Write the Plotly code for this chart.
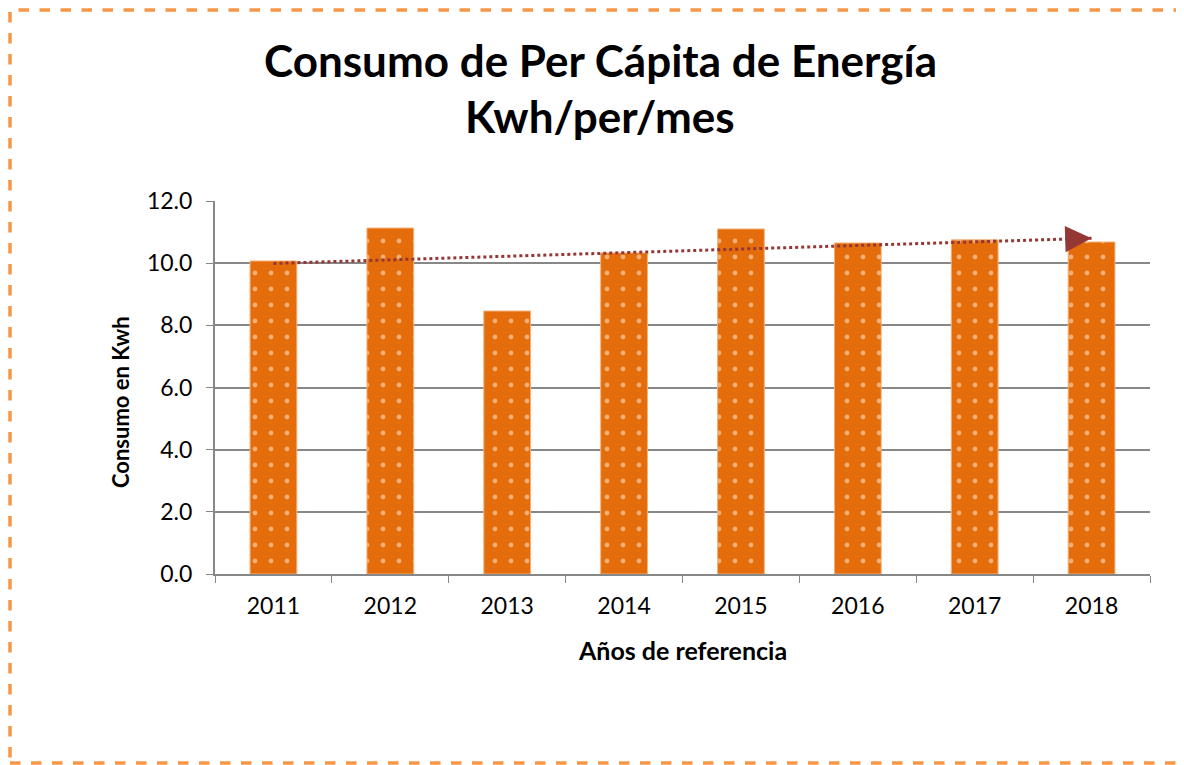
import numpy as np
import plotly.graph_objects as go

years = ["2011", "2012", "2013", "2014", "2015", "2016", "2017", "2018"]
consumo = [10.07, 11.13, 8.46, 10.33, 11.10, 10.65, 10.75, 10.68]

# the page body has an 8px margin, so the figure is drawn 8px in
OFF = 8
W, H = 1184 - OFF, 765 - OFF
L, R, T, B = 215 - OFF, 1184 - 1150, 201 - OFF, 765 - 574
pw, ph = W - L - R, H - T - B

# lineal trend (like Excel's trendline)
idx = np.arange(len(years))
slope, icpt = np.polyfit(idx, consumo, 1)
trend = icpt + slope * idx

fig = go.Figure()
fig.add_trace(go.Bar(
    x=years, y=consumo, width=0.4,
    marker=dict(color="#E46C0A", line=dict(color="#F5B17A", width=1),
                pattern=dict(shape=".", fgcolor="#FFF1E6", bgcolor="#E46C0A",
                             size=16, solidity=0.07)),
))
fig.add_trace(go.Scatter(
    x=years, y=trend, mode="lines",
    line=dict(color="#953735", width=3, dash="dot"),
))

fig.add_annotation(x=7, y=trend[-1], ax=6.85, ay=trend[-1] - 0.15 * slope,
                   xref="x", yref="y", axref="x", ayref="y",
                   showarrow=True, arrowhead=2, arrowsize=2.4, arrowwidth=2.2,
                   arrowcolor="#953735", text="")


# pixel (in the screenshot) -> paper coords
def px_x(p):
    return (p - OFF - L) / pw


def px_y(p):
    return (H + OFF - B - p) / ph


# title, two lines
fig.add_annotation(text="<b>Consumo de Per Cápita de Energía</b>", showarrow=False,
                   xref="paper", yref="paper", x=px_x(600), y=px_y(60),
                   xanchor="center", yanchor="middle", font=dict(size=44))
fig.add_annotation(text="<b>Kwh/per/mes</b>", showarrow=False,
                   xref="paper", yref="paper", x=px_x(600), y=px_y(116),
                   xanchor="center", yanchor="middle", font=dict(size=44))

# axis titles
fig.add_annotation(text="<b>Años de referencia</b>", showarrow=False,
                   xref="paper", yref="paper", x=px_x(682), y=px_y(650),
                   xanchor="center", yanchor="middle", font=dict(size=25))
fig.add_annotation(text="<b>Consumo en Kwh</b>", showarrow=False, textangle=-90,
                   xref="paper", yref="paper", x=px_x(120), y=px_y(402),
                   xanchor="center", yanchor="middle", font=dict(size=22))

# dashed frame around the whole chart (right side falls outside the picture)
fig.add_shape(type="rect", xref="paper", yref="paper",
              x0=px_x(10), x1=px_x(1260), y0=px_y(763), y1=px_y(10),
              line=dict(color="#F79646", width=3.5, dash="dash"))

fig.update_layout(
    width=W, height=H,
    margin=dict(l=L, r=R, t=T, b=B),
    paper_bgcolor="white", plot_bgcolor="white",
    showlegend=False,
    font=dict(family="Lato, Open Sans, sans-serif", color="black", size=23),
    bargap=0.6,
)
fig.update_xaxes(
    type="category", tickson="boundaries", ticks="outside", ticklen=7,
    tickcolor="#878787", showline=True, linecolor="#878787", linewidth=2,
    showgrid=False, tickfont=dict(size=23), ticklabelstandoff=10,
)
fig.update_yaxes(
    range=[0, 12], dtick=2, tickformat=".1f", ticks="outside", ticklen=7,
    tickcolor="#878787", showline=True, linecolor="#878787", linewidth=2,
    showgrid=True, gridcolor="#878787", gridwidth=1.5, zeroline=False,
    tickfont=dict(size=23), ticklabelstandoff=9,
)

fig.write_html("out.html")
